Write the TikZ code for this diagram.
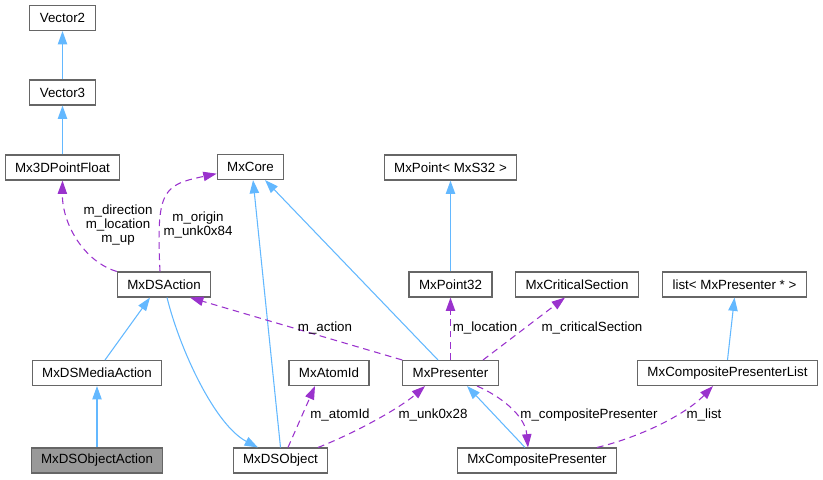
\documentclass[tikz,border=0pt]{standalone}
\usepackage{fontspec}
\setmainfont{Liberation Sans}
\usetikzlibrary{arrows.meta}
\definecolor{edgeblue}{HTML}{63B8FF}
\definecolor{memberpurple}{HTML}{9A32CD}
\definecolor{boxgray}{HTML}{666666}
\definecolor{curgray}{HTML}{999999}
\begin{document}
\begin{tikzpicture}[x=0.75pt,y=-0.75pt,
  inherit/.style={draw=edgeblue,line width=0.8pt,-{Triangle[length=10pt,width=7pt]}},
  member/.style={draw=memberpurple,line width=0.8pt,dash pattern=on 5pt off 3.5pt,-{Triangle[length=10pt,width=7pt]}},
  lbl/.style={align=center,font=\fontsize{10}{10.5}\selectfont,inner sep=0pt}]
  \useasboundingbox (0,0) rectangle (823,479);
  \begin{scope}[every node/.style={draw=boxgray,fill=white,line width=0.8pt,minimum height=18.75pt,inner xsep=7.5pt,inner ysep=0pt,font=\fontsize{10}{12}\selectfont}]
  \node (vec2) at (62.5,18) {Vector2};
  \node (vec3) at (62.5,92.5) {Vector3};
  \node (pt3d) at (62.5,167.5) {Mx3DPointFloat};
  \node (core) at (250.5,167) {MxCore};
  \node (pointS32) at (450.5,167.5) {MxPoint< MxS32 >};
  \node (dsaction) at (164,284.5) {MxDSAction};
  \node (point32) at (450.5,284.5) {MxPoint32};
  \node (critsec) at (577,284.5) {MxCriticalSection};
  \node (listpres) at (734.5,284.5) {list< MxPresenter * >};
  \node (dsmedia) at (97,373) {MxDSMediaAction};
  \node (atomid) at (329,373) {MxAtomId};
  \node (presenter) at (450.5,373) {MxPresenter};
  \node (cplist) at (727.5,373) {MxCompositePresenterList};
  \node[fill=curgray] (dsobjact) at (97,460.5) {MxDSObjectAction};
  \node (dsobject) at (280.5,460.5) {MxDSObject};
  \node (composite) at (537,460.5) {MxCompositePresenter};
  \end{scope}
  % base classes
  \path (vec3.north) edge[inherit] (vec2.south);
  \path (pt3d.north) edge[inherit] (vec3.south);
  \path ([xshift=6pt]dsmedia.north) edge[inherit] ([xshift=-10.5pt]dsaction.south);
  \path (dsobjact.north) edge[inherit] (dsmedia.south);
  \draw[inherit] ([xshift=2.25pt]dsaction.south) .. controls (180,350) and (215,425) .. ([xshift=-16.9pt]dsobject.north);
  \path (dsobject.north) edge[inherit] ([xshift=1.9pt]core.south);
  \path ([xshift=-9.4pt]presenter.north) edge[inherit] ([xshift=10.9pt]core.south);
  \path (point32.north) edge[inherit] (pointS32.south);
  \path (cplist.north) edge[inherit] (listpres.south);
  \path ([xshift=-9pt]composite.north) edge[inherit] ([xshift=12.4pt]presenter.south);
  % members
  \draw[member] (dsaction.north west) .. controls (85,262) and (62,225) .. (pt3d.south);
  \draw[member] ([xshift=-3pt]dsaction.north) .. controls (156,190) and (163,185) .. ([yshift=-5pt]core.west);
  \path (presenter.north west) edge[member] ([xshift=19.5pt]dsaction.south);
  \path ([xshift=5.6pt]dsobject.north) edge[member] ([xshift=-10.5pt]atomid.south);
  \draw[member] ([xshift=28.1pt]dsobject.north) .. controls (355,433) and (400,408) .. ([xshift=-19.1pt]presenter.south);
  \path (presenter.north) edge[member] (point32.south);
  \path ([xshift=24.4pt]presenter.north) edge[member] ([xshift=-9pt]critsec.south);
  \draw[member] ([xshift=19.9pt]presenter.south) .. controls (500,396) and (525,415) .. ([xshift=-6.75pt]composite.north);
  \draw[member] ([xshift=45pt]composite.north) .. controls (640,437) and (685,415) .. ([xshift=-10.9pt]cplist.south);
  % labels
  \node[lbl] (ldir) at (118,225) {m\_direction\\m\_location\\m\_up};
  \node[lbl] (lorig) at (198,225) {m\_origin\\m\_unk0x84};
  \node[lbl] (lact) at (325,328) {m\_action};
  \node[lbl] (latom) at (340,415) {m\_atomId};
  \node[lbl] (lunk) at (433,415) {m\_unk0x28};
  \node[lbl] (lloc) at (485,328) {m\_location};
  \node[lbl] (lcrit) at (592,328) {m\_criticalSection};
  \node[lbl] (lcomp) at (589,415) {m\_compositePresenter};
  \node[lbl] (llist) at (704,415) {m\_list};
\end{tikzpicture}
\end{document}
